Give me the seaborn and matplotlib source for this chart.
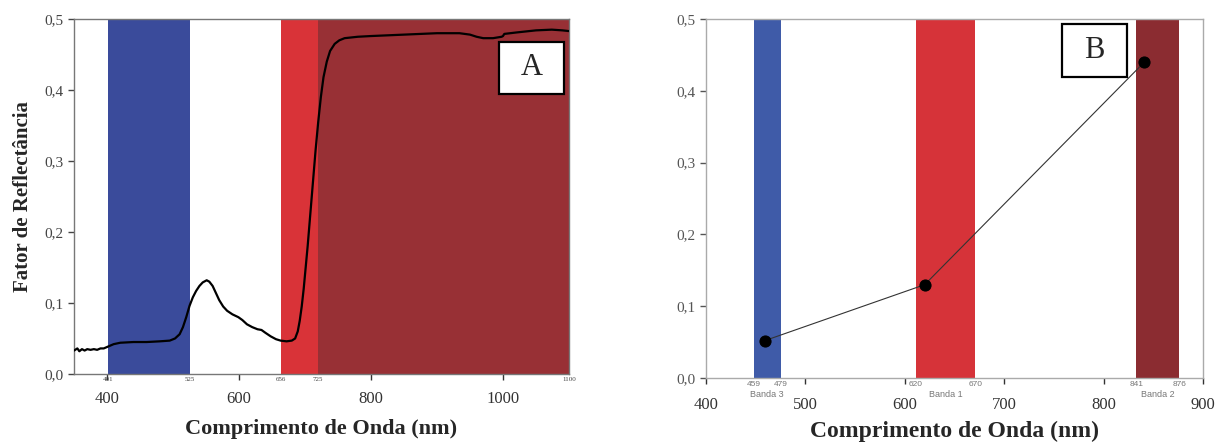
import matplotlib
matplotlib.use("Agg")
import matplotlib.pyplot as plt
import seaborn as sns
from matplotlib.patches import Rectangle
from matplotlib.ticker import FixedLocator, FixedFormatter

# curva espectral (painel A)
wl = [350, 355, 358, 362, 366, 370, 375, 380, 385, 390, 395, 400, 405, 410, 420, 440,
      460, 480, 495, 503, 510, 515, 520, 525, 530, 535, 540, 545, 551, 555, 560, 565,
      570, 576, 582, 590, 599, 605, 612, 620, 628, 634, 640, 648, 656, 663, 672, 680,
      685, 689, 692, 695, 698, 701, 704, 708, 712, 716, 720, 724, 728, 733, 738, 745,
      752, 760, 780, 800, 850, 900, 934, 950, 960, 970, 985, 998, 1000, 1002, 1020,
      1050, 1074, 1090, 1100]
refl = [0.033, 0.036, 0.032, 0.035, 0.033, 0.035, 0.034, 0.035, 0.034, 0.036, 0.036,
        0.038, 0.040, 0.042, 0.044, 0.045, 0.045, 0.046, 0.047, 0.050, 0.056, 0.066,
        0.080, 0.096, 0.108, 0.117, 0.124, 0.129, 0.132, 0.130, 0.124, 0.114, 0.104,
        0.095, 0.089, 0.084, 0.080, 0.076, 0.070, 0.066, 0.063, 0.062, 0.058, 0.053,
        0.049, 0.047, 0.046, 0.047, 0.050, 0.060, 0.075, 0.095, 0.120, 0.150, 0.180,
        0.225, 0.270, 0.315, 0.355, 0.390, 0.418, 0.440, 0.455, 0.465, 0.470, 0.473,
        0.475, 0.476, 0.478, 0.480, 0.480, 0.478, 0.475, 0.473, 0.473, 0.475, 0.476,
        0.479, 0.481, 0.484, 0.485, 0.484, 0.483]

# bandas do sensor (painel B)
band_wl = [459, 620, 841]
band_refl = [0.052, 0.130, 0.440]
band_names = ["Banda 3", "Banda 1", "Banda 2"]

spans_a = [(401, 526), (664, 720), (720, 1100)]
colors_a = ["#3a4b9b", "#d93338", "#983035"]
edges_a = [401, 526, 664, 720, 1100]
edge_labels_a = ["401", "525", "656", "725", "1100"]
xticks_a = [400, 600, 800, 1000]

spans_b = [(448, 475), (611, 671), (833, 876)]
colors_b = ["#3f5ba8", "#d63339", "#8b2c31"]
edges_b = [448, 475, 611, 671, 833, 876]
edge_labels_b = ["459", "479", "620", "670", "841", "876"]
xticks_b = [400, 500, 600, 700, 800, 900]

yticks = [0.0, 0.1, 0.2, 0.3, 0.4, 0.5]
ytick_labels = ["0,0", "0,1", "0,2", "0,3", "0,4", "0,5"]

sns.set_style("ticks")
plt.rcParams["font.family"] = ["Liberation Serif", "DejaVu Serif"]

fig = plt.figure(figsize=(12.16, 4.43), dpi=100)
ax1 = fig.add_axes([0.0609, 0.1558, 0.4070, 0.8013])
ax2 = fig.add_axes([0.5806, 0.1467, 0.4087, 0.8104])

# ---- painel A ----
for (a, b), c in zip(spans_a, colors_a):
    ax1.axvspan(a, b, color=c, lw=0, zorder=0)
sns.lineplot(x=wl, y=refl, ax=ax1, color="black", lw=1.6, zorder=3)
ax1.set_xlim(350, 1100)
ax1.set_ylim(0, 0.5)

ax1.xaxis.set_major_locator(FixedLocator(xticks_a))
ax1.xaxis.set_major_formatter(FixedFormatter([str(t) for t in xticks_a]))
ax1.xaxis.set_minor_locator(FixedLocator(edges_a))
ax1.xaxis.set_minor_formatter(FixedFormatter(edge_labels_a))
ax1.tick_params(axis="x", which="major", length=4, width=1, pad=8,
                labelsize=12, colors="#333333")
ax1.tick_params(axis="x", which="minor", length=0, pad=2, labelsize=5,
                colors="#444444")
ax1.set_yticks(yticks)
ax1.set_yticklabels(ytick_labels)
ax1.tick_params(axis="y", length=4, width=1, labelsize=11, colors="#444444")
for s in ax1.spines.values():
    s.set_color("#777777")
    s.set_linewidth(1)
ax1.set_xlabel("Comprimento de Onda (nm)", fontsize=16, fontweight="bold", labelpad=9)
ax1.set_ylabel("Fator de Reflectância", fontsize=15, fontweight="bold", labelpad=8)

ax1.add_patch(Rectangle((0.859, 0.789), 0.131, 0.146, transform=ax1.transAxes,
                        fc="white", ec="black", lw=1.6, zorder=5))
ax1.text(0.9245, 0.862, "A", transform=ax1.transAxes, ha="center", va="center",
         fontsize=22, zorder=6)

# ---- painel B ----
for (a, b), c in zip(spans_b, colors_b):
    ax2.axvspan(a, b, color=c, lw=0, zorder=0)
sns.lineplot(x=band_wl, y=band_refl, ax=ax2, color="#333333", lw=0.8, marker="o",
             markersize=8, markerfacecolor="black", markeredgecolor="black", zorder=3)
ax2.set_xlim(400, 900)
ax2.set_ylim(0, 0.5)

ax2.xaxis.set_major_locator(FixedLocator(xticks_b))
ax2.xaxis.set_major_formatter(FixedFormatter([str(t) for t in xticks_b]))
ax2.xaxis.set_minor_locator(FixedLocator(edges_b))
ax2.xaxis.set_minor_formatter(FixedFormatter(edge_labels_b))
ax2.tick_params(axis="x", which="major", length=4, width=1, pad=10,
                labelsize=12, colors="#333333")
ax2.tick_params(axis="x", which="minor", length=0, pad=2, labelsize=6,
                colors="#777777")
for lab in ax2.xaxis.get_minorticklabels():
    lab.set_family(["Liberation Sans", "DejaVu Sans"])
for (a, b), name in zip(spans_b, band_names):
    ax2.text((a + b) / 2, -0.046, name, transform=ax2.get_xaxis_transform(),
             ha="center", va="center", fontsize=6.5, color="#777777",
             family=["Liberation Sans", "DejaVu Sans"])
ax2.set_yticks(yticks)
ax2.set_yticklabels(ytick_labels)
ax2.tick_params(axis="y", length=4, width=1, labelsize=11, colors="#555555")
for s in ax2.spines.values():
    s.set_color("#aaaaaa")
    s.set_linewidth(1)
ax2.set_xlabel("Comprimento de Onda (nm)", fontsize=17, fontweight="bold", labelpad=5)

ax2.add_patch(Rectangle((0.716, 0.838), 0.131, 0.148, transform=ax2.transAxes,
                        fc="white", ec="black", lw=1.6, zorder=5))
ax2.text(0.7815, 0.912, "B", transform=ax2.transAxes, ha="center", va="center",
         fontsize=22, zorder=6)

fig.savefig("out.png", dpi=100)
